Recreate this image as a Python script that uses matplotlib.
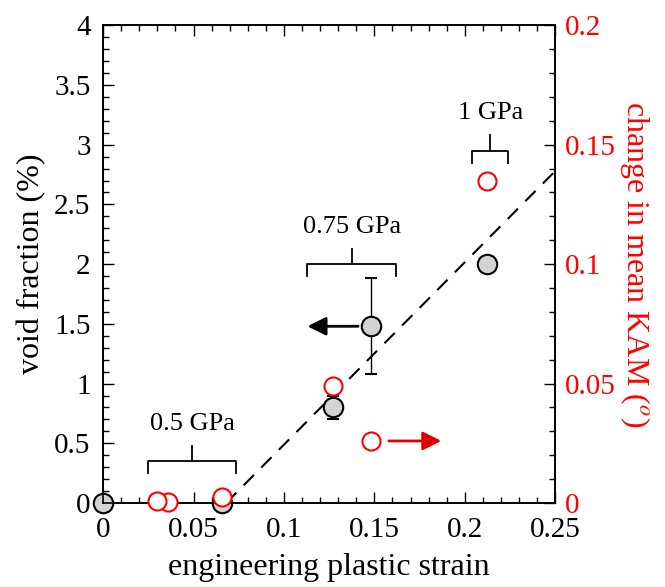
import numpy as np
import matplotlib.pyplot as plt
from matplotlib.ticker import MultipleLocator, FormatStrFormatter

plt.rcParams['font.family'] = ['Liberation Serif', 'DejaVu Serif']
plt.rcParams['mathtext.fontset'] = 'stix'

# void fraction (left axis)
strain_void = [0.0, 0.066, 0.127, 0.148, 0.212]
void_frac = [0.0, 0.0, 0.80, 1.48, 2.0]
void_err = [0.0, 0.0, 0.10, 0.40, 0.06]

# change in mean KAM (right axis)
strain_kam = [0.036, 0.030, 0.066, 0.127, 0.148, 0.212]
kam = [0.0005, 0.001, 0.0025, 0.049, 0.026, 0.135]

# dashed trend line
trend_x = [0.068, 0.25]
trend_y = [0.0, 2.78]

# stress-level brackets: (left, right, y, label)
brackets = [(0.025, 0.0735, 0.35, '0.5 GPa'),
            (0.113, 0.162, 2.0, '0.75 GPa'),
            (0.204, 0.224, 2.95, '1 GPa')]

fig = plt.figure(figsize=(6.65, 5.87), dpi=100)
ax = fig.add_axes([0.155, 0.143, 0.68, 0.814])

ax.plot(trend_x, trend_y, color='k', lw=1.5, dashes=(7, 5), zorder=1)
ax.errorbar(strain_void, void_frac, yerr=void_err, fmt='o', ms=14,
            mfc='#d3d3d3', mec='k', mew=1.5, ecolor='k', elinewidth=1,
            capsize=4, capthick=1, zorder=3, clip_on=False)

for x0, x1, y, lab in brackets:
    xm = (x0 + x1) / 2
    ax.plot([x0, x0, x1, x1], [y - 0.1, y, y, y - 0.1], color='k', lw=1.3)
    ax.plot([xm, xm], [y, y + 0.13], color='k', lw=1.3)
    ax.text(xm, y + 0.22, lab, ha='center', va='bottom', fontsize=19)

ax.annotate('', xy=(0.113, 1.48), xytext=(0.141, 1.48),
            arrowprops=dict(arrowstyle='-|>', color='k', lw=2,
                            mutation_scale=28, shrinkA=0, shrinkB=0))

ax.set_xlim(0, 0.25)
ax.set_ylim(0, 4)
ax.xaxis.set_major_locator(MultipleLocator(0.05))
ax.xaxis.set_minor_locator(MultipleLocator(0.01))
ax.yaxis.set_major_locator(MultipleLocator(0.5))
ax.yaxis.set_minor_locator(MultipleLocator(0.1))
ax.xaxis.set_major_formatter(FormatStrFormatter('%g'))
ax.yaxis.set_major_formatter(FormatStrFormatter('%g'))
ax.tick_params(which='both', direction='in', top=True, right=False,
               labelsize=21)
ax.tick_params(axis='y', pad=9)
ax.tick_params(axis='x', pad=10)
ax.tick_params(which='major', length=8, width=1)
ax.tick_params(which='minor', length=4, width=1)
ax.set_xlabel('engineering plastic strain', fontsize=23, labelpad=7)
ax.set_ylabel('void fraction (%)', fontsize=23, labelpad=6)

ax2 = ax.twinx()
ax2.plot(strain_kam, kam, 'o', ms=13, mfc='white', mec='red', mew=1.5,
         zorder=4, clip_on=False)
ax2.annotate('', xy=(0.187, 0.026), xytext=(0.158, 0.026),
             arrowprops=dict(arrowstyle='-|>', color='#e00000', lw=2,
                             mutation_scale=28, shrinkA=0, shrinkB=0))
ax2.set_ylim(0, 0.2)
ax2.yaxis.set_major_locator(MultipleLocator(0.05))
ax2.yaxis.set_minor_locator(MultipleLocator(0.01))
ax2.yaxis.set_major_formatter(FormatStrFormatter('%g'))
ax2.tick_params(which='both', direction='in', labelsize=21, labelcolor='red',
                pad=7)
ax2.tick_params(which='major', length=8, width=1)
ax2.tick_params(which='minor', length=4, width=1)
ax2.set_ylabel('change in mean KAM ($^o$)', color='red', fontsize=23,
               rotation=270, labelpad=26)

for a in (ax, ax2):
    for s in a.spines.values():
        s.set_linewidth(1.2)

ax.set_zorder(ax2.get_zorder() + 1)
ax.patch.set_visible(False)
# keep red markers above the grey ones
ax2.set_zorder(ax.get_zorder() + 1)
ax2.patch.set_visible(False)

fig.savefig('out.png', dpi=100)
